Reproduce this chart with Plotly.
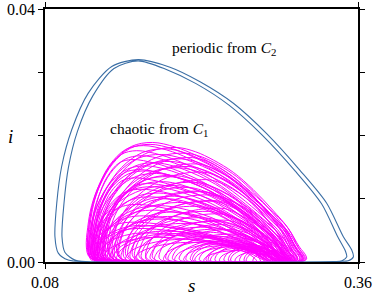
import plotly.graph_objects as go

# ---- periodic orbit from C2 (blue): outer loop then inner loop
per_s = [0.1128, 0.3439, 0.3513, 0.3558, 0.3544, 0.3469, 0.3320, 0.3081, 0.2783, 0.2485,
         0.2187, 0.1918, 0.1635, 0.1397, 0.1187, 0.1039, 0.0949, 0.0905, 0.0889, 0.0919, 0.1008,
         0.1203, 0.3394, 0.3457, 0.3499, 0.3488, 0.3421, 0.3274, 0.3037, 0.2741, 0.2446,
         0.2151, 0.1891, 0.1632, 0.1417, 0.1229, 0.1091, 0.1010, 0.0970, 0.0952, 0.0979, 0.1068,
         0.1128]
per_i = [0.0001, 0.0001, 0.0002, 0.0008, 0.0019, 0.0040, 0.0093, 0.0145, 0.0203, 0.0251,
         0.0285, 0.0308, 0.0320, 0.0309, 0.0267, 0.0209, 0.0151, 0.0093, 0.0040, 0.0014, 0.0003,
         0.00005, 0.00006, 0.0002, 0.0008, 0.0017, 0.0039, 0.0092, 0.0144, 0.0201, 0.0248,
         0.0282, 0.0304, 0.0318, 0.0306, 0.0263, 0.0207, 0.0150, 0.0093, 0.0040, 0.0015, 0.0003,
         0.0001]

# ---- chaotic attractor from C1 (magenta): one entry per loop
loop_s_left = [0.117, 0.119, 0.124, 0.118, 0.128, 0.120, 0.133, 0.121, 0.126, 0.136,
               0.119, 0.130, 0.123, 0.140, 0.122, 0.131, 0.125, 0.144, 0.127, 0.134, 0.121,
               0.138, 0.124, 0.146, 0.129, 0.152, 0.126, 0.142, 0.158, 0.132, 0.122,
               0.150, 0.164, 0.128, 0.140, 0.170, 0.125, 0.156, 0.134, 0.176,
               0.120, 0.148, 0.182, 0.130, 0.162, 0.124, 0.188, 0.138, 0.170, 0.127,
               0.194, 0.144, 0.178, 0.132, 0.200, 0.152,
               0.206, 0.186, 0.212, 0.160, 0.218, 0.196, 0.224, 0.232, 0.204, 0.240,
               0.214, 0.246, 0.228, 0.254, 0.236, 0.260, 0.222, 0.250, 0.266,
               0.118, 0.122, 0.120, 0.127, 0.123, 0.132, 0.121, 0.129, 0.137, 0.124,
               0.145, 0.131, 0.154, 0.127, 0.160, 0.136, 0.166, 0.123, 0.174, 0.141,
               0.190, 0.210, 0.226, 0.244, 0.258]
loop_s_peak = [0.176, 0.162, 0.198, 0.168, 0.206, 0.184, 0.212, 0.158, 0.192, 0.216,
               0.170, 0.200, 0.164, 0.222, 0.180, 0.194, 0.160, 0.226, 0.186, 0.172, 0.196,
               0.208, 0.166, 0.218, 0.182, 0.228, 0.174, 0.190, 0.232, 0.204, 0.162,
               0.214, 0.238, 0.178, 0.198, 0.236, 0.168, 0.220, 0.186, 0.242,
               0.160, 0.206, 0.240, 0.176, 0.224, 0.166, 0.248, 0.192, 0.228, 0.172,
               0.250, 0.200, 0.234, 0.182, 0.254, 0.210,
               0.246, 0.232, 0.252, 0.214, 0.258, 0.240, 0.262, 0.260, 0.244, 0.268,
               0.250, 0.272, 0.256, 0.276, 0.264, 0.280, 0.254, 0.274, 0.284,
               0.174, 0.188, 0.166, 0.202, 0.178, 0.208, 0.170, 0.190, 0.214, 0.176,
               0.222, 0.196, 0.230, 0.184, 0.226, 0.194, 0.234, 0.170, 0.238, 0.198,
               0.244, 0.250, 0.258, 0.270, 0.278]
loop_i_peak = [0.0189, 0.0176, 0.0181, 0.0184, 0.0172, 0.0170, 0.0165, 0.0162, 0.0159, 0.0155,
               0.0152, 0.0149, 0.0146, 0.0142, 0.0140, 0.0137, 0.0133, 0.0130, 0.0127, 0.0124, 0.0121,
               0.0118, 0.0115, 0.0112, 0.0109, 0.0106, 0.0103, 0.0100, 0.0097, 0.0094, 0.0091,
               0.0088, 0.0085, 0.0082, 0.0079, 0.0076, 0.0073, 0.0070, 0.0068, 0.0066,
               0.0063, 0.0061, 0.0059, 0.0057, 0.0055, 0.0053, 0.0051, 0.0049, 0.0047, 0.0046,
               0.0044, 0.0042, 0.0041, 0.0039, 0.0038, 0.0036,
               0.0034, 0.0033, 0.0032, 0.0031, 0.0030, 0.0029, 0.0028, 0.0027, 0.0026, 0.0025,
               0.0024, 0.0023, 0.0022, 0.0021, 0.0020, 0.0019, 0.0018, 0.0017, 0.0016,
               0.0186, 0.0179, 0.0168, 0.0163, 0.0157, 0.0151, 0.0144, 0.0135, 0.0126, 0.0119,
               0.0111, 0.0104, 0.0096, 0.0089, 0.0080, 0.0072, 0.0064, 0.0058, 0.0052, 0.0045,
               0.0040, 0.0035, 0.0030, 0.0026, 0.0022]
loop_s_right = [0.314, 0.306, 0.312, 0.310, 0.309, 0.313, 0.303, 0.300, 0.311, 0.305,
                0.296, 0.308, 0.302, 0.299, 0.294, 0.306, 0.297, 0.301, 0.292, 0.304, 0.298,
                0.290, 0.300, 0.295, 0.288, 0.303, 0.293, 0.286, 0.298, 0.291, 0.284,
                0.300, 0.289, 0.296, 0.283, 0.294, 0.287, 0.302, 0.281, 0.292,
                0.285, 0.297, 0.288, 0.279, 0.299, 0.290, 0.294, 0.282, 0.301, 0.277,
                0.289, 0.296, 0.284, 0.291, 0.298, 0.280,
                0.286, 0.293, 0.276, 0.288, 0.297, 0.282, 0.290, 0.273, 0.300, 0.284,
                0.279, 0.293, 0.287, 0.297, 0.281, 0.291, 0.270, 0.286, 0.295,
                0.311, 0.308, 0.304, 0.310, 0.301, 0.306, 0.298, 0.303, 0.296, 0.293,
                0.299, 0.290, 0.296, 0.287, 0.298, 0.284, 0.293, 0.280, 0.290, 0.278,
                0.287, 0.292, 0.284, 0.290, 0.282]

# loop outline (fractions), taken from the shape of the blue orbit
RIGHT_B = [0.062, 0.023, 0.0, 0.007, 0.046, 0.124, 0.248, 0.403, 0.558, 0.713, 0.853]
RIGHT_V = [0.003, 0.006, 0.025, 0.059, 0.125, 0.29, 0.453, 0.634, 0.784, 0.89, 0.9625]
LEFT_A = [1.0, 0.681, 0.40, 0.201, 0.080, 0.021, 0.0, 0.04, 0.16, 0.32]
LEFT_V = [1.0, 0.966, 0.834, 0.653, 0.472, 0.291, 0.125, 0.044, 0.01, 0.003]

cs, ci = [], []
for sl, sp, ip, sr in zip(loop_s_left, loop_s_peak, loop_i_peak, loop_s_right):
    for b, v in zip(RIGHT_B, RIGHT_V):
        cs.append(sr - b * (sr - sp)); ci.append(v * ip)
    for a, v in zip(LEFT_A, LEFT_V):
        cs.append(sl + a * (sp - sl)); ci.append(v * ip)

FONT = "Liberation Serif, Times New Roman, serif"
fig = go.Figure()
fig.add_trace(go.Scatter(x=cs, y=ci, mode="lines",
                         line=dict(color="#ff00ff", width=1.0, shape="spline", smoothing=1.0),
                         hoverinfo="skip", showlegend=False))
fig.add_trace(go.Scatter(x=per_s, y=per_i, mode="lines",
                         line=dict(color="#3a6ea5", width=1.1, shape="spline", smoothing=0.8),
                         hoverinfo="skip", showlegend=False))

axis_common = dict(showgrid=False, zeroline=False, showline=True, linecolor="black", linewidth=1.5,
                   mirror="allticks", ticks="outside", ticklen=5, tickwidth=1.2, tickcolor="black",
                   tickfont=dict(family=FONT, size=16, color="black"), automargin=False)
fig.update_layout(
    width=382, height=295,
    margin=dict(l=45, r=24, t=9, b=33, autoexpand=False),
    paper_bgcolor="white", plot_bgcolor="white",
    font=dict(family=FONT, size=16, color="black"),
    showlegend=False,
    xaxis=dict(range=[0.08, 0.36], tickvals=[0.08, 0.36], ticktext=["0.08", "0.36"], **axis_common),
    yaxis=dict(range=[0, 0.04], tickvals=[0, 0.01, 0.02, 0.03, 0.04],
               ticktext=["0.00", "", "", "", "0.04"], **axis_common),
    annotations=[
        dict(text="<i>s</i>", xref="paper", yref="paper", x=(191.7 - 45) / 313, y=-(285 - 262) / 253,
             showarrow=False, font=dict(family=FONT, size=19), xanchor="center", yanchor="middle"),
        dict(text="<i>i</i>", xref="paper", yref="paper", x=-(45 - 10) / 313, y=(262 - 136.7) / 253,
             showarrow=False, font=dict(family=FONT, size=19), xanchor="center", yanchor="middle"),
        dict(text="periodic from <i>C</i><sub>2</sub>", xref="paper", yref="paper",
             x=(224 - 45) / 313, y=(262 - 49) / 253, showarrow=False,
             font=dict(family=FONT, size=15.5), xanchor="center", yanchor="middle"),
        dict(text="chaotic from <i>C</i><sub>1</sub>", xref="paper", yref="paper",
             x=(159 - 45) / 313, y=(262 - 129) / 253, showarrow=False,
             font=dict(family=FONT, size=15.5), xanchor="center", yanchor="middle"),
    ],
)
fig.write_html("out.html", config={"displayModeBar": False},
               post_script="document.body.style.margin='0';document.body.style.overflow='hidden';")
